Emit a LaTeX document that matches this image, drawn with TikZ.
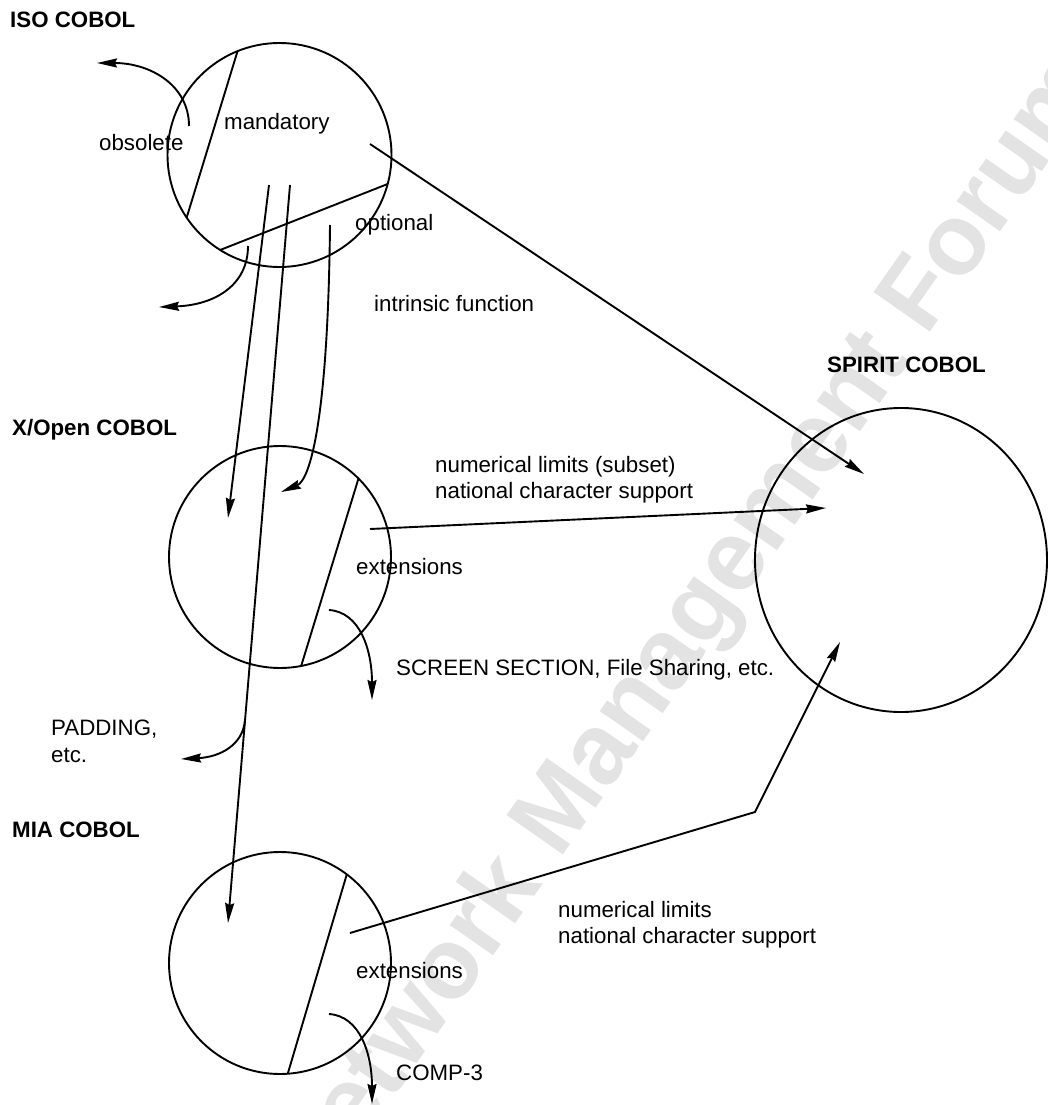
\documentclass[tikz,border=0pt]{standalone}
\usepackage{fontspec}
\setmainfont{Liberation Sans}
\usetikzlibrary{arrows.meta,shapes.geometric}
\begin{document}
\begin{tikzpicture}[x=1pt,y=-1pt,
  lbl/.style={anchor=base west,inner sep=0pt,font=\fontsize{22.3}{26}\selectfont},
  head/.style={anchor=base west,inner sep=0pt,font=\fontsize{22.3}{26}\selectfont\bfseries},
  ring/.style={circle,draw,line width=1.9pt,minimum size=#1,inner sep=0pt,outer sep=0pt},
  wire/.style={line width=1.9pt},
  arr/.style={wire,-{Stealth[length=20pt,width=9pt,inset=2pt]}},
  wmark/.style={text=black!11,inner sep=0pt,font=\fontsize{100}{100}\selectfont\bfseries},
]
\useasboundingbox (0,0) rectangle (1048,1105);
\clip (0,0) rectangle (1048,1105);

% watermark
\node[wmark,rotate=55] (wm) at (690,630) {Network Management Forum};

% circles
\node[ring=224pt] (iso) at (279.5,155) {};
\node[ring=222pt] (xo) at (280,557) {};
\node[ring=222pt] (mia) at (280,963) {};
\node[ellipse,draw,line width=1.9pt,minimum width=292pt,minimum height=304pt,inner sep=0pt,outer sep=0pt] (spirit) at (901,560) {};

% chords
\draw[wire] (iso.112.7) -- (iso.214.4);
\draw[wire] (iso.345.8) -- (iso.238.8);
\draw[wire] (xo.45) -- (xo.281.7);
\draw[wire] (mia.53.1) -- (mia.274.6);

% headings
\node[head] (hiso) at (10,27.5) {ISO COBOL};
\node[head] (hxo) at (12,435) {X/Open COBOL};
\node[head] (hmia) at (12,837) {MIA COBOL};
\node[head] (hsp) at (827,372) {SPIRIT COBOL};

% labels
\node[lbl] (mand) at (224,130) {mandatory};
\node[lbl] (obs) at (99,150) {obsolete};
\node[lbl] (opt) at (355,230) {optional};
\node[lbl] (intr) at (374,311) {intrinsic function};
\node[lbl] (nl1) at (435,472) {numerical limits (subset)};
\node[lbl] (nc1) at (435,498) {national character support};
\node[lbl] (ext1) at (356,574) {extensions};
\node[lbl] (scr) at (396,675) {SCREEN SECTION, File Sharing, etc.};
\node[lbl] (pad1) at (51,735) {PADDING,};
\node[lbl] (pad2) at (51,762) {etc.};
\node[lbl] (nl2) at (558,917) {numerical limits};
\node[lbl] (nc2) at (558,943) {national character support};
\node[lbl] (ext2) at (356,978) {extensions};
\node[lbl] (comp) at (396,1080) {COMP-3};

% connector end points
\coordinate (obsS) at (189,126);
\coordinate (obsE) at (97,63);
\coordinate (llS) at (248,246);
\coordinate (llE) at (159,307);
\coordinate (aS) at (269,185);
\coordinate (aE) at (228,518);
\coordinate (bS) at (290,185);
\coordinate (bE) at (228,923);
\coordinate (cS) at (330,225);
\coordinate (cE) at (281,492);
\coordinate (isoS) at (370,144);
\coordinate (isoE) at (864,474);
\coordinate (xoS) at (370,529);
\coordinate (xoE) at (826,508);
\coordinate (scrS) at (329,610);
\coordinate (scrE) at (372,700);
\coordinate (padS) at (245,720);
\coordinate (padE) at (181,759);
\coordinate (miaS) at (350,933);
\coordinate (kink) at (755,812);
\coordinate (miaE) at (840,642);
\coordinate (cmpS) at (329,1014);
\coordinate (cmpE) at (372,1104);

% connectors
\draw[arr] (obsS) .. controls (189,85) and (150,63) .. (obsE);
\draw[arr] (llS) .. controls (248,285) and (215,305) .. (llE);
\draw[arr] (aS) -- (aE);
\draw[arr] (bS) -- (bE);
\draw[arr] (cS) .. controls (328,420) and (310,480) .. (cE);
\draw[arr] (isoS) -- (isoE);
\draw[arr] (xoS) -- (xoE);
\draw[arr] (scrS) .. controls (360,612) and (372,650) .. (scrE);
\draw[arr] (padS) .. controls (243,745) and (220,757) .. (padE);
\draw[arr] (miaS) -- (kink) -- (miaE);
\draw[arr] (cmpS) .. controls (360,1016) and (372,1054) .. (cmpE);
\end{tikzpicture}
\end{document}
